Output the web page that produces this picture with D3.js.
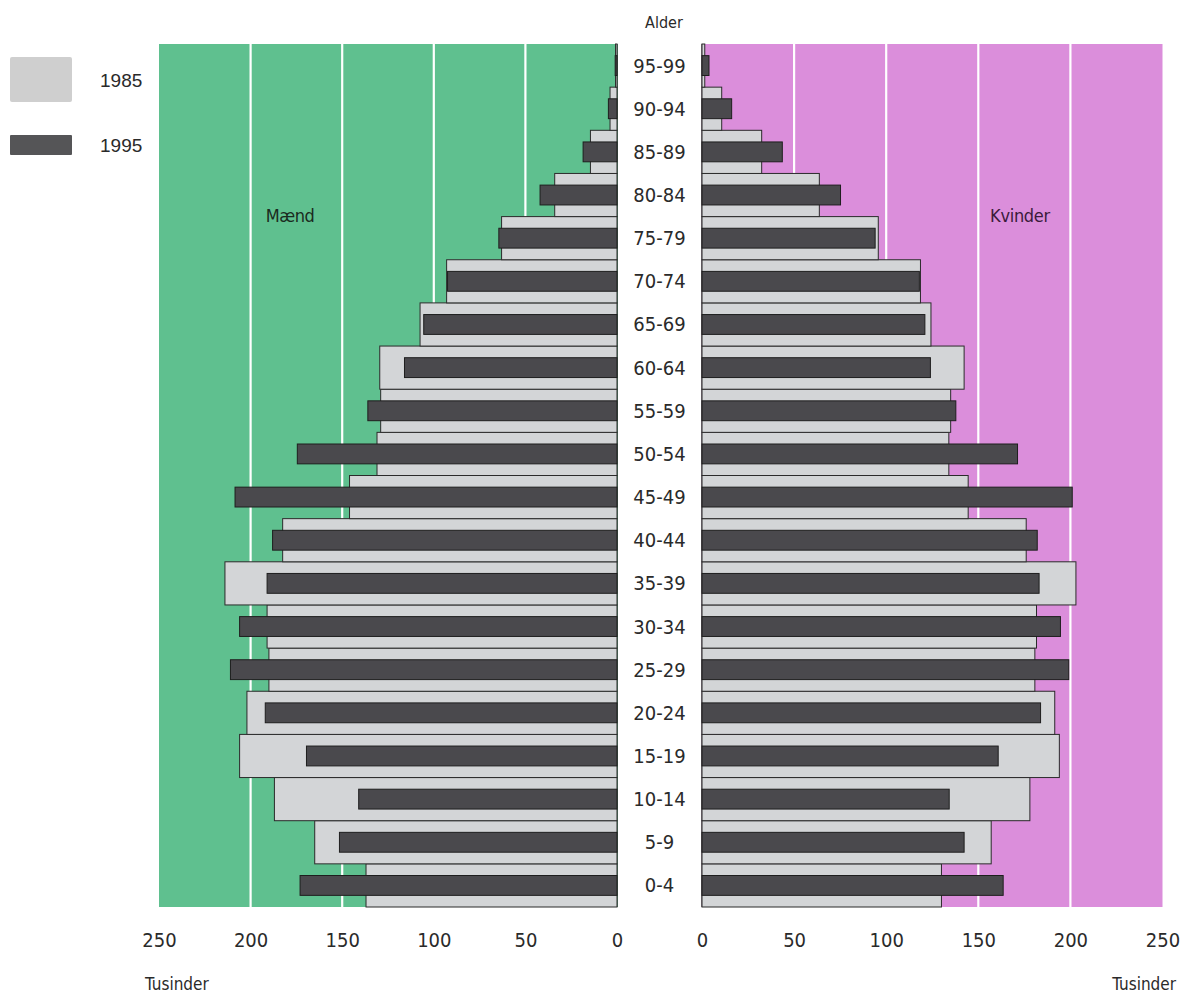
<!DOCTYPE html>
<html>
<head>
<meta charset="utf-8">
<script src="https://cdn.jsdelivr.net/npm/d3@7"></script>
<style>
  html, body { margin: 0; padding: 0; background: #ffffff; }
  svg { display: block; }
  .narrow { font-family: "Liberation Sans Narrow", "DejaVu Sans Condensed", "Liberation Sans", sans-serif; font-stretch: condensed; }
</style>
</head>
<body>
<svg id="chart" width="1181" height="993"></svg>
<script>
// ---------- DATA ----------
const ages = ["0-4","5-9","10-14","15-19","20-24","25-29","30-34","35-39","40-44","45-49",
              "50-54","55-59","60-64","65-69","70-74","75-79","80-84","85-89","90-94","95-99"];
const men1985   = [137, 165, 187, 206, 202, 190, 191, 214, 182.5, 146, 131, 129, 129.5, 107.5, 93, 63, 34, 14.5, 3.8, 0.8];
const men1995   = [173, 151.5, 141, 169.5, 192, 211, 206, 191, 188, 208.5, 174.5, 136, 116, 105.5, 92.5, 64.5, 42, 18.5, 4.7, 1];
const women1985 = [130, 157, 178, 194, 191.5, 180.7, 181.6, 203, 176, 144.5, 134, 135, 142.3, 124.3, 118.6, 95.7, 63.7, 32.4, 10.7, 1.5];
const women1995 = [163.5, 142.3, 134.2, 160.8, 183.8, 199.1, 194.6, 183, 182, 201, 171.3, 137.8, 124, 121, 118, 94, 75.2, 43.6, 16.1, 3.8];
const tickValues = [0, 50, 100, 150, 200, 250];
const gridValues = [50, 100, 150, 200];
const legendYears = ["1985", "1995"];

// ---------- LAYOUT ----------
const svg = d3.select("#chart");
const panelTop = 44, panelBottom = 907;
const y = d3.scaleBand().domain(ages.slice().reverse()).range([panelTop, panelBottom]).paddingInner(0).paddingOuter(0);
const xL = d3.scaleLinear().domain([0, 250]).range([617, 159]);
const xR = d3.scaleLinear().domain([0, 250]).range([702, 1162.5]);

const colGreen = "#5fc08f";
const colPink = "#db8edb";
const colLight = "#d3d5d7";
const colDark = "#4a494d";
const colStroke = "#2b2b2b";

// backgrounds
svg.append("rect").attr("x", xL(250)).attr("y", panelTop).attr("width", xL(0) - xL(250)).attr("height", panelBottom - panelTop).attr("fill", colGreen);
svg.append("rect").attr("x", xR(0)).attr("y", panelTop).attr("width", xR(250) - xR(0)).attr("height", panelBottom - panelTop).attr("fill", colPink);

// gridlines
svg.append("g").selectAll("line").data(gridValues).join("line")
  .attr("x1", d => xL(d)).attr("x2", d => xL(d)).attr("y1", panelTop).attr("y2", panelBottom)
  .attr("stroke", "#ffffff").attr("stroke-width", 2.2);
svg.append("g").selectAll("line").data(gridValues).join("line")
  .attr("x1", d => xR(d)).attr("x2", d => xR(d)).attr("y1", panelTop).attr("y2", panelBottom)
  .attr("stroke", "#ffffff").attr("stroke-width", 2.2);

// zero lines
svg.append("line").attr("x1", xL(0)).attr("x2", xL(0)).attr("y1", panelTop).attr("y2", panelBottom).attr("stroke", "#1f5a3a").attr("stroke-width", 1.5);
svg.append("line").attr("x1", xR(0)).attr("x2", xR(0)).attr("y1", panelTop).attr("y2", panelBottom).attr("stroke", "#6a5a6a").attr("stroke-width", 1.5);

const bw = y.bandwidth();
const darkH = bw * 0.46;

// light bars 1985
svg.append("g").selectAll("rect").data(ages).join("rect")
  .attr("x", (d, i) => xL(men1985[i])).attr("y", d => y(d))
  .attr("width", (d, i) => xL(0) - xL(men1985[i])).attr("height", bw)
  .attr("fill", colLight).attr("stroke", colStroke).attr("stroke-width", 1);
svg.append("g").selectAll("rect").data(ages).join("rect")
  .attr("x", xR(0)).attr("y", d => y(d))
  .attr("width", (d, i) => xR(women1985[i]) - xR(0)).attr("height", bw)
  .attr("fill", colLight).attr("stroke", colStroke).attr("stroke-width", 1);

// dark bars 1995
svg.append("g").selectAll("rect").data(ages).join("rect")
  .attr("x", (d, i) => xL(men1995[i])).attr("y", d => y(d) + (bw - darkH) / 2)
  .attr("width", (d, i) => xL(0) - xL(men1995[i])).attr("height", darkH)
  .attr("fill", colDark).attr("stroke", "#1e1e1e").attr("stroke-width", 1);
svg.append("g").selectAll("rect").data(ages).join("rect")
  .attr("x", xR(0)).attr("y", d => y(d) + (bw - darkH) / 2)
  .attr("width", (d, i) => xR(women1995[i]) - xR(0)).attr("height", darkH)
  .attr("fill", colDark).attr("stroke", "#1e1e1e").attr("stroke-width", 1);

// age labels
svg.append("g").selectAll("text").data(ages).join("text")
  .attr("class", "narrow")
  .attr("x", (xL(0) + xR(0)) / 2).attr("y", d => y(d) + bw / 2)
  .attr("text-anchor", "middle").attr("dominant-baseline", "central")
  .attr("font-size", 20).attr("fill", "#2a2a2a").text(d => d);

svg.append("text").attr("class", "narrow").attr("x", 664).attr("y", 22)
  .attr("text-anchor", "middle").attr("dominant-baseline", "central")
  .attr("font-size", 16).attr("fill", "#2a2a2a").text("Alder");

// axes
function styleAxis(g) {
  g.select(".domain").remove();
  g.selectAll(".tick line").remove();
  g.selectAll(".tick text").attr("class", "narrow").attr("font-size", 20).attr("fill", "#2a2a2a").attr("dy", 0);
}
svg.append("g").attr("transform", "translate(0,947)")
  .call(d3.axisBottom(xL).tickValues(tickValues).tickFormat(d3.format("d")).tickSize(0).tickPadding(0))
  .call(styleAxis);
svg.append("g").attr("transform", "translate(0,947)")
  .call(d3.axisBottom(xR).tickValues(tickValues).tickFormat(d3.format("d")).tickSize(0).tickPadding(0))
  .call(styleAxis);

svg.append("text").attr("class", "narrow").attr("x", 145).attr("y", 990)
  .attr("font-size", 17).attr("fill", "#2a2a2a").text("Tusinder");
svg.append("text").attr("class", "narrow").attr("x", 1176).attr("y", 990).attr("text-anchor", "end")
  .attr("font-size", 17).attr("fill", "#2a2a2a").text("Tusinder");

// panel titles
svg.append("text").attr("class", "narrow").attr("x", 290).attr("y", 222).attr("text-anchor", "middle")
  .attr("font-size", 18).attr("fill", "#1a2a20").attr("letter-spacing", -0.5).text("Mænd");
svg.append("text").attr("class", "narrow").attr("x", 1020).attr("y", 222).attr("text-anchor", "middle")
  .attr("font-size", 18).attr("fill", "#3a1a3a").attr("letter-spacing", -0.3).text("Kvinder");

// legend
const legend = svg.append("g");
legend.append("rect").attr("x", 10).attr("y", 57).attr("width", 62).attr("height", 45).attr("rx", 2)
  .attr("fill", "#cfcfcf");
legend.append("rect").attr("x", 10).attr("y", 135).attr("width", 62).attr("height", 20).attr("rx", 1)
  .attr("fill", "#555557");
legend.selectAll("text.lg").data(legendYears).join("text").attr("class", "lg")
  .attr("x", 100).attr("y", (d, i) => i === 0 ? 80 : 145)
  .attr("dominant-baseline", "central")
  .attr("font-family", "'Liberation Sans', Arial, sans-serif")
  .attr("font-size", 19).attr("fill", "#2a2a2a").text(d => d);
</script>
</body>
</html>
